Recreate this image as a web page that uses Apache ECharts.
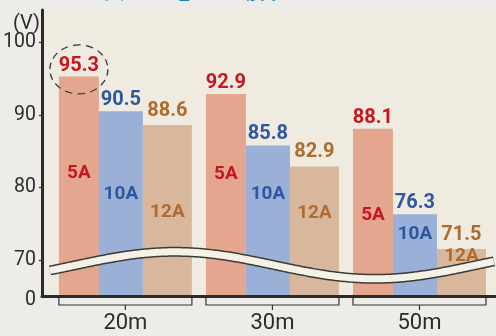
<!DOCTYPE html>
<html><head><meta charset="utf-8">
<script src="https://cdn.jsdelivr.net/npm/echarts@6/dist/echarts.min.js"></script>
<style>html,body{margin:0;padding:0;background:#edece9;}#c{width:496px;height:336px;}</style>
</head><body><div id="c"></div>
<script>
// ---- data ----
const categories = ['20m', '30m', '50m'];
const currents = ['5A', '10A', '12A'];
const values5A = [95.3, 92.9, 88.1];
const values10A = [90.5, 85.8, 76.3];
const values12A = [88.6, 82.9, 71.5];
const yTickValues = [70, 80, 90, 100];
const yBottomTick = 65;        // broken-axis bottom, labelled "0"
const yBottomLabel = '0';
const yUnit = '(V)';
const titleText = 'ケーブル長さと電流の場合';

// ---- styling / layout ----
const barColors = ['#e4a68e', '#9bb0d6', '#d8b79d'];
const textColors = ['#c8161e', '#2f56a0', '#b06b2e'];
const barWidths = [40, 44, 49];
const valueLabelGaps = [1, 1, 4];
// vertical level (axis units) of the current name written inside each bar
const innerLabelLevels = [[82.0, 81.8, 76.1], [79.1, 79.0, 73.5], [76.6, 76.4, 70.5]];
const allValues = [values5A, values10A, values12A];

const chart = echarts.init(document.getElementById('c'), null, {renderer: 'canvas'});
const FONT = 'Roboto, "Liberation Sans", sans-serif';

const barSeries = allValues.map((vals, s) => {
  const ser = {
    type: 'bar', name: currents[s], xAxisIndex: 1, yAxisIndex: 1,
    data: vals, barWidth: barWidths[s], barGap: '0%',
    itemStyle: {color: barColors[s]},
    label: {show: true, position: 'top', distance: valueLabelGaps[s], color: textColors[s],
      fontSize: 20, fontWeight: 'bold', fontFamily: FONT},
    markPoint: {
      symbol: 'circle', symbolSize: 1, itemStyle: {color: 'rgba(0,0,0,0)'},
      label: {show: true, position: 'inside', formatter: currents[s], color: textColors[s],
        fontSize: 19, fontWeight: 'bold', fontFamily: FONT},
      data: categories.map((c, i) => ({coord: [c, innerLabelLevels[s][i]]}))
    },
    z: 2
  };
  if (s === 0) {
    ser.markPoint.data.push({
      coord: [categories[0], vals[0] + 1.0], symbol: 'circle', symbolSize: [58, 49],
      itemStyle: {color: 'rgba(0,0,0,0)', borderColor: '#333', borderWidth: 1.2, borderType: [7, 5]},
      label: {show: false}
    });
  }
  return ser;
});

const halfGroup = barWidths.reduce((a, b) => a + b, 0) / 2;

const option = {
  animation: false,
  backgroundColor: '#edece9',
  title: [
    {text: titleText, left: 10, top: -26,
      textStyle: {color: '#1a82b4', fontSize: 22, fontWeight: 'bold', fontFamily: '"Noto Sans CJK JP"'}},
    {text: yUnit, left: 8, top: 9,
      textStyle: {color: '#2b2b2b', fontSize: 20, fontWeight: 'normal', fontFamily: FONT}}
  ],
  grid: [
    {left: 42, right: 0, top: 10, bottom: 40, show: true, backgroundColor: '#efebe1', borderWidth: 0},
    {left: 50, right: 3, top: 10, bottom: 40}
  ],
  xAxis: [
    {gridIndex: 0, type: 'value', min: 0, max: 1, z: 10,
      axisLine: {show: true, lineStyle: {color: '#2b2b2b', width: 3}},
      axisTick: {show: false}, axisLabel: {show: false}, splitLine: {show: false}},
    {gridIndex: 1, type: 'category', data: categories,
      axisLine: {show: false}, axisTick: {show: false},
      axisLabel: {color: '#2b2b2b', fontSize: 22, fontFamily: FONT, margin: 16}}
  ],
  yAxis: [
    {gridIndex: 0, type: 'value', min: 0, max: 1, z: 10,
      axisLine: {show: true, lineStyle: {color: '#2b2b2b', width: 3}},
      axisTick: {show: false}, axisLabel: {show: false}, splitLine: {show: false}},
    {gridIndex: 1, type: 'value', min: yBottomTick, max: 104.5, offset: 8,
      axisLine: {show: false}, splitLine: {show: false},
      axisTick: {show: true, length: 5, customValues: yTickValues, lineStyle: {color: '#333', width: 1.2}},
      axisLabel: {margin: 8, color: '#2b2b2b', fontSize: 19.5, fontFamily: FONT,
        customValues: [yBottomTick].concat(yTickValues),
        formatter: v => v === yBottomTick ? '{z|' + yBottomLabel + '}' : String(v),
        rich: {z: {fontSize: 19.5, fontFamily: FONT, color: '#2b2b2b', padding: [8, 0, 0, 0]}}}}
  ],
  series: barSeries.concat([{
    type: 'custom', xAxisIndex: 1, yAxisIndex: 1, z: 5, silent: true,
    data: categories.map(c => [c, yBottomTick]),
    renderItem: function (params, api) {
      const p = api.coord([api.value(0), yBottomTick]);
      const cx = p[0], y0 = p[1];
      const st = {stroke: '#333', lineWidth: 1.2, fill: null};
      return {type: 'group', children: [
        {type: 'polyline', shape: {points: [[cx - halfGroup, y0 + 1], [cx - halfGroup, y0 + 9], [cx + halfGroup, y0 + 9], [cx + halfGroup, y0 + 1]]}, style: st},
        {type: 'line', shape: {x1: cx, y1: y0 + 9, x2: cx, y2: y0 + 14}, style: st}
      ]};
    }
  }])
};
chart.setOption(option);

// decorative axis-break wave
function wavePoints() {
  const pts = [];
  for (let x = 50; x <= 494; x += 3) {
    pts.push([x, 265.3 - 13.5 * Math.cos(Math.PI * (x - 175) / 200)]);
  }
  return pts;
}
const wp = wavePoints();
chart.setOption({graphic: [
  {type: 'polyline', z: 8, shape: {points: wp, smooth: 0.3}, style: {stroke: '#3a3a3a', lineWidth: 10, fill: null}, silent: true},
  {type: 'polyline', z: 9, shape: {points: wp, smooth: 0.3}, style: {stroke: '#f4f2e6', lineWidth: 7, fill: null}, silent: true}
]});
</script></body></html>
